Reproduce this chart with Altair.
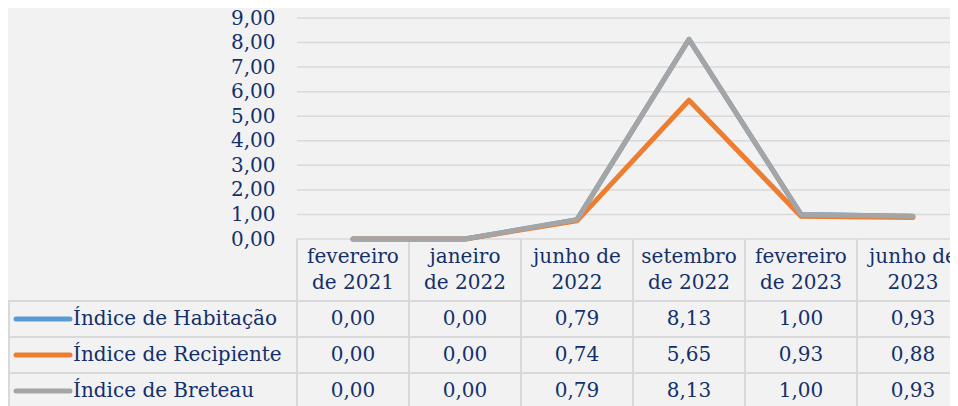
import altair as alt
import pandas as pd

categories = ["fevereiro\nde 2021", "janeiro\nde 2022", "junho de\n2022",
              "setembro\nde 2022", "fevereiro\nde 2023", "junho de\n2023"]
series_names = ["Índice de Habitação", "Índice de Recipiente", "Índice de Breteau"]
habitacao = [0.00, 0.00, 0.79, 8.13, 1.00, 0.93]
recipiente = [0.00, 0.00, 0.74, 5.65, 0.93, 0.88]
breteau = [0.00, 0.00, 0.79, 8.13, 1.00, 0.93]
y_ticks = [0, 1, 2, 3, 4, 5, 6, 7, 8, 9]
colors = ["#5b9bd5", "#ed7d31", "#a5a5a5"]

FONT = "DejaVu Serif"
FS = 20
TXT = "#13306b"
GRID = "#d9d9d9"

rows = []
for name, vals in zip(series_names, [habitacao, recipiente, breteau]):
    for c, v in zip(categories, vals):
        rows.append({"cat": c, "series": name, "value": v,
                     "label": f"{v:.2f}".replace(".", ",")})
df = pd.DataFrame(rows)
df_cat = pd.DataFrame({"cat": categories})
df_ser = pd.DataFrame({"series": series_names})
df_grid = pd.DataFrame({"v": y_ticks})

xscale = alt.Scale(type="point", domain=categories, range=[345, 905], padding=0)
yscale = alt.Scale(domain=[0, 9], range=[231, 10], nice=False, zero=True)
rowscale = alt.Scale(domain=series_names, range=[293, 401], paddingInner=0, paddingOuter=0)
cscale = alt.Scale(domain=series_names, range=colors)

yaxis = alt.Axis(values=y_ticks, offset=-289, domain=False, ticks=False, tickSize=0,
                 grid=False, labelPadding=22, labelFont=FONT, labelFontSize=FS,
                 labelColor=TXT, title=None,
                 labelExpr="replace(format(datum.value, '.2f'), '.', ',')")

grid = alt.Chart(df_grid).mark_rule(color=GRID, strokeWidth=1.5).encode(
    y=alt.Y("v:Q", scale=yscale, axis=yaxis),
    x=alt.value(289), x2=alt.value(961))

def line_layer(name):
    return alt.Chart(df).transform_filter(alt.datum.series == name).mark_line(
        strokeWidth=5, strokeJoin="round", strokeCap="round").encode(
        x=alt.X("cat:N", sort=categories, scale=xscale, axis=None),
        y=alt.Y("value:Q", scale=yscale, axis=None),
        color=alt.Color("series:N", scale=cscale, legend=None))

vrules = alt.Chart(df_cat).mark_rule(color=GRID, strokeWidth=2, xOffset=-56).encode(
    x=alt.X("cat:N", sort=categories, scale=xscale, axis=None),
    y=alt.value(231), y2=alt.value(401))

left_rule = alt.Chart(df_ser).mark_rule(color=GRID, strokeWidth=2).encode(
    x=alt.value(1), y=alt.value(293), y2=alt.value(401))

hrules = alt.Chart(df_ser).mark_rule(color=GRID, strokeWidth=2).encode(
    y=alt.Y("series:N", scale=rowscale, bandPosition=0, axis=None),
    x=alt.value(0), x2=alt.value(961))

headers = alt.Chart(df_cat).mark_text(font=FONT, fontSize=FS, color=TXT, lineBreak="\n",
                                      lineHeight=26, baseline="middle").encode(
    x=alt.X("cat:N", sort=categories, scale=xscale, axis=None),
    y=alt.value(249), text="cat:N")

cells = alt.Chart(df).mark_text(font=FONT, fontSize=FS, color=TXT, baseline="middle").encode(
    x=alt.X("cat:N", sort=categories, scale=xscale, axis=None),
    y=alt.Y("series:N", scale=rowscale, axis=None),
    text="label:N")

swatches = alt.Chart(df_ser).mark_rule(strokeWidth=5, strokeCap="round").encode(
    x=alt.value(8), x2=alt.value(62),
    y=alt.Y("series:N", scale=rowscale, axis=None),
    color=alt.Color("series:N", scale=cscale, legend=None))

legend_text = alt.Chart(df_ser).mark_text(font=FONT, fontSize=FS, color=TXT, align="left",
                                          baseline="middle").encode(
    x=alt.value(65),
    y=alt.Y("series:N", scale=rowscale, axis=None),
    text="series:N")

chart = alt.layer(
    grid, vrules, left_rule, hrules,
    line_layer(series_names[0]), line_layer(series_names[1]), line_layer(series_names[2]),
    headers, cells, swatches, legend_text
).resolve_scale(y="independent").properties(
    width=942, height=398,
    autosize=alt.AutoSizeParams(type="none"),
    padding=0,
    background="#f2f2f2"
).configure_view(stroke=None)

chart.save("out.html", embed_options={"renderer": "svg", "actions": False})
